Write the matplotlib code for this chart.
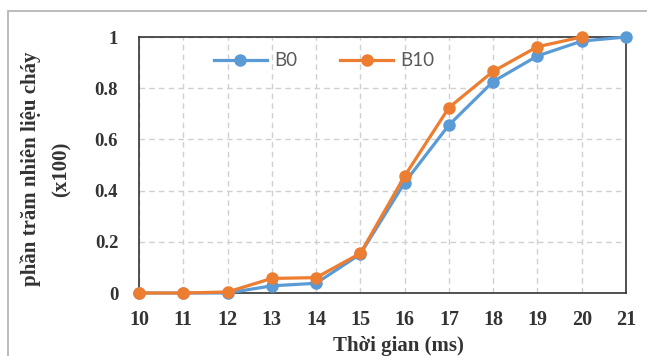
import matplotlib.pyplot as plt
from matplotlib.patches import Rectangle

# time axis (ms)
time_b0 = [10, 11, 12, 13, 14, 15, 16, 17, 18, 19, 20, 21]
time_b10 = [10, 11, 12, 13, 14, 15, 16, 17, 18, 19, 20]

# burned fuel fraction (x100)
burn_b0 = [0, 0, 0, 0.028, 0.038, 0.152, 0.431, 0.656, 0.826, 0.926, 0.984, 1.0]
burn_b10 = [0, 0, 0.004, 0.057, 0.060, 0.155, 0.457, 0.724, 0.866, 0.962, 1.0]

x_ticks = list(range(10, 22))
y_ticks = [0, 0.2, 0.4, 0.6, 0.8, 1]
y_tick_labels = ["0", "0.2", "0.4", "0.6", "0.8", "1"]

BLUE = "#5B9BD5"
ORANGE = "#ED7D31"
SERIF = "Liberation Serif"

W, H = 647, 356
L, R, T, B = 139, 626, 37, 293  # axes box in pixels

fig = plt.figure(figsize=(W / 100, H / 100), dpi=100)
ax = fig.add_axes([L / W, 1 - B / H, (R - L) / W, (B - T) / H])

# outer frame of the original picture
fig.patches.append(Rectangle((8 / W, -0.1), 1.2, 1 - 11 / H + 0.1,
                             transform=fig.transFigure, fill=False,
                             edgecolor="#b0b0b0", linewidth=1.2))

ax.plot(time_b0, burn_b0, color=BLUE, linewidth=2.3, marker="o",
        markersize=8, label="B0", clip_on=False, zorder=3)
ax.plot(time_b10, burn_b10, color=ORANGE, linewidth=2.3, marker="o",
        markersize=8, label="B10", clip_on=False, zorder=4)

ax.set_xlim(10, 21)
ax.set_ylim(0, 1)
ax.set_xticks(x_ticks)
ax.set_yticks(y_ticks)
ax.set_yticklabels(y_tick_labels)
ax.grid(True, color="#d0d0d0", linestyle=(0, (4, 3)), linewidth=1.0)
ax.set_axisbelow(True)

for s in ax.spines.values():
    s.set_color("#333333")
    s.set_linewidth(1.2)

ax.tick_params(length=0, labelcolor="#333333")
ax.tick_params(axis="x", pad=12, labelsize=14.5)
ax.tick_params(axis="y", pad=15, labelsize=13.5)
for lab in ax.get_xticklabels() + ax.get_yticklabels():
    lab.set_fontfamily(SERIF)
    lab.set_fontweight("bold")

ax.set_xlabel("Thời gian (ms)", fontfamily=SERIF, fontweight="bold",
              fontsize=15, color="#333333")
ax.xaxis.set_label_coords((398 - L) / (R - L), -(336 - B) / (B - T))
ax.set_ylabel("phần trăm nhiên liệu cháy\n(x100)", fontfamily=SERIF,
              fontweight="bold", fontsize=15, color="#333333",
              linespacing=1.75)
ax.yaxis.set_label_coords(-(L - 46) / (R - L), (B - 169) / (B - T))
ax.yaxis.label.set_va("center")

ax.legend(loc="center left", bbox_to_anchor=((214 - L) / (R - L), (B - 61) / (B - T)),
          ncol=2, frameon=False, handlelength=2.8, handletextpad=0.4,
          columnspacing=2.3, borderpad=0, borderaxespad=0,
          labelcolor="#595959", prop={"family": "Lato", "size": 13.5})

fig.savefig("out.png", dpi=100)
